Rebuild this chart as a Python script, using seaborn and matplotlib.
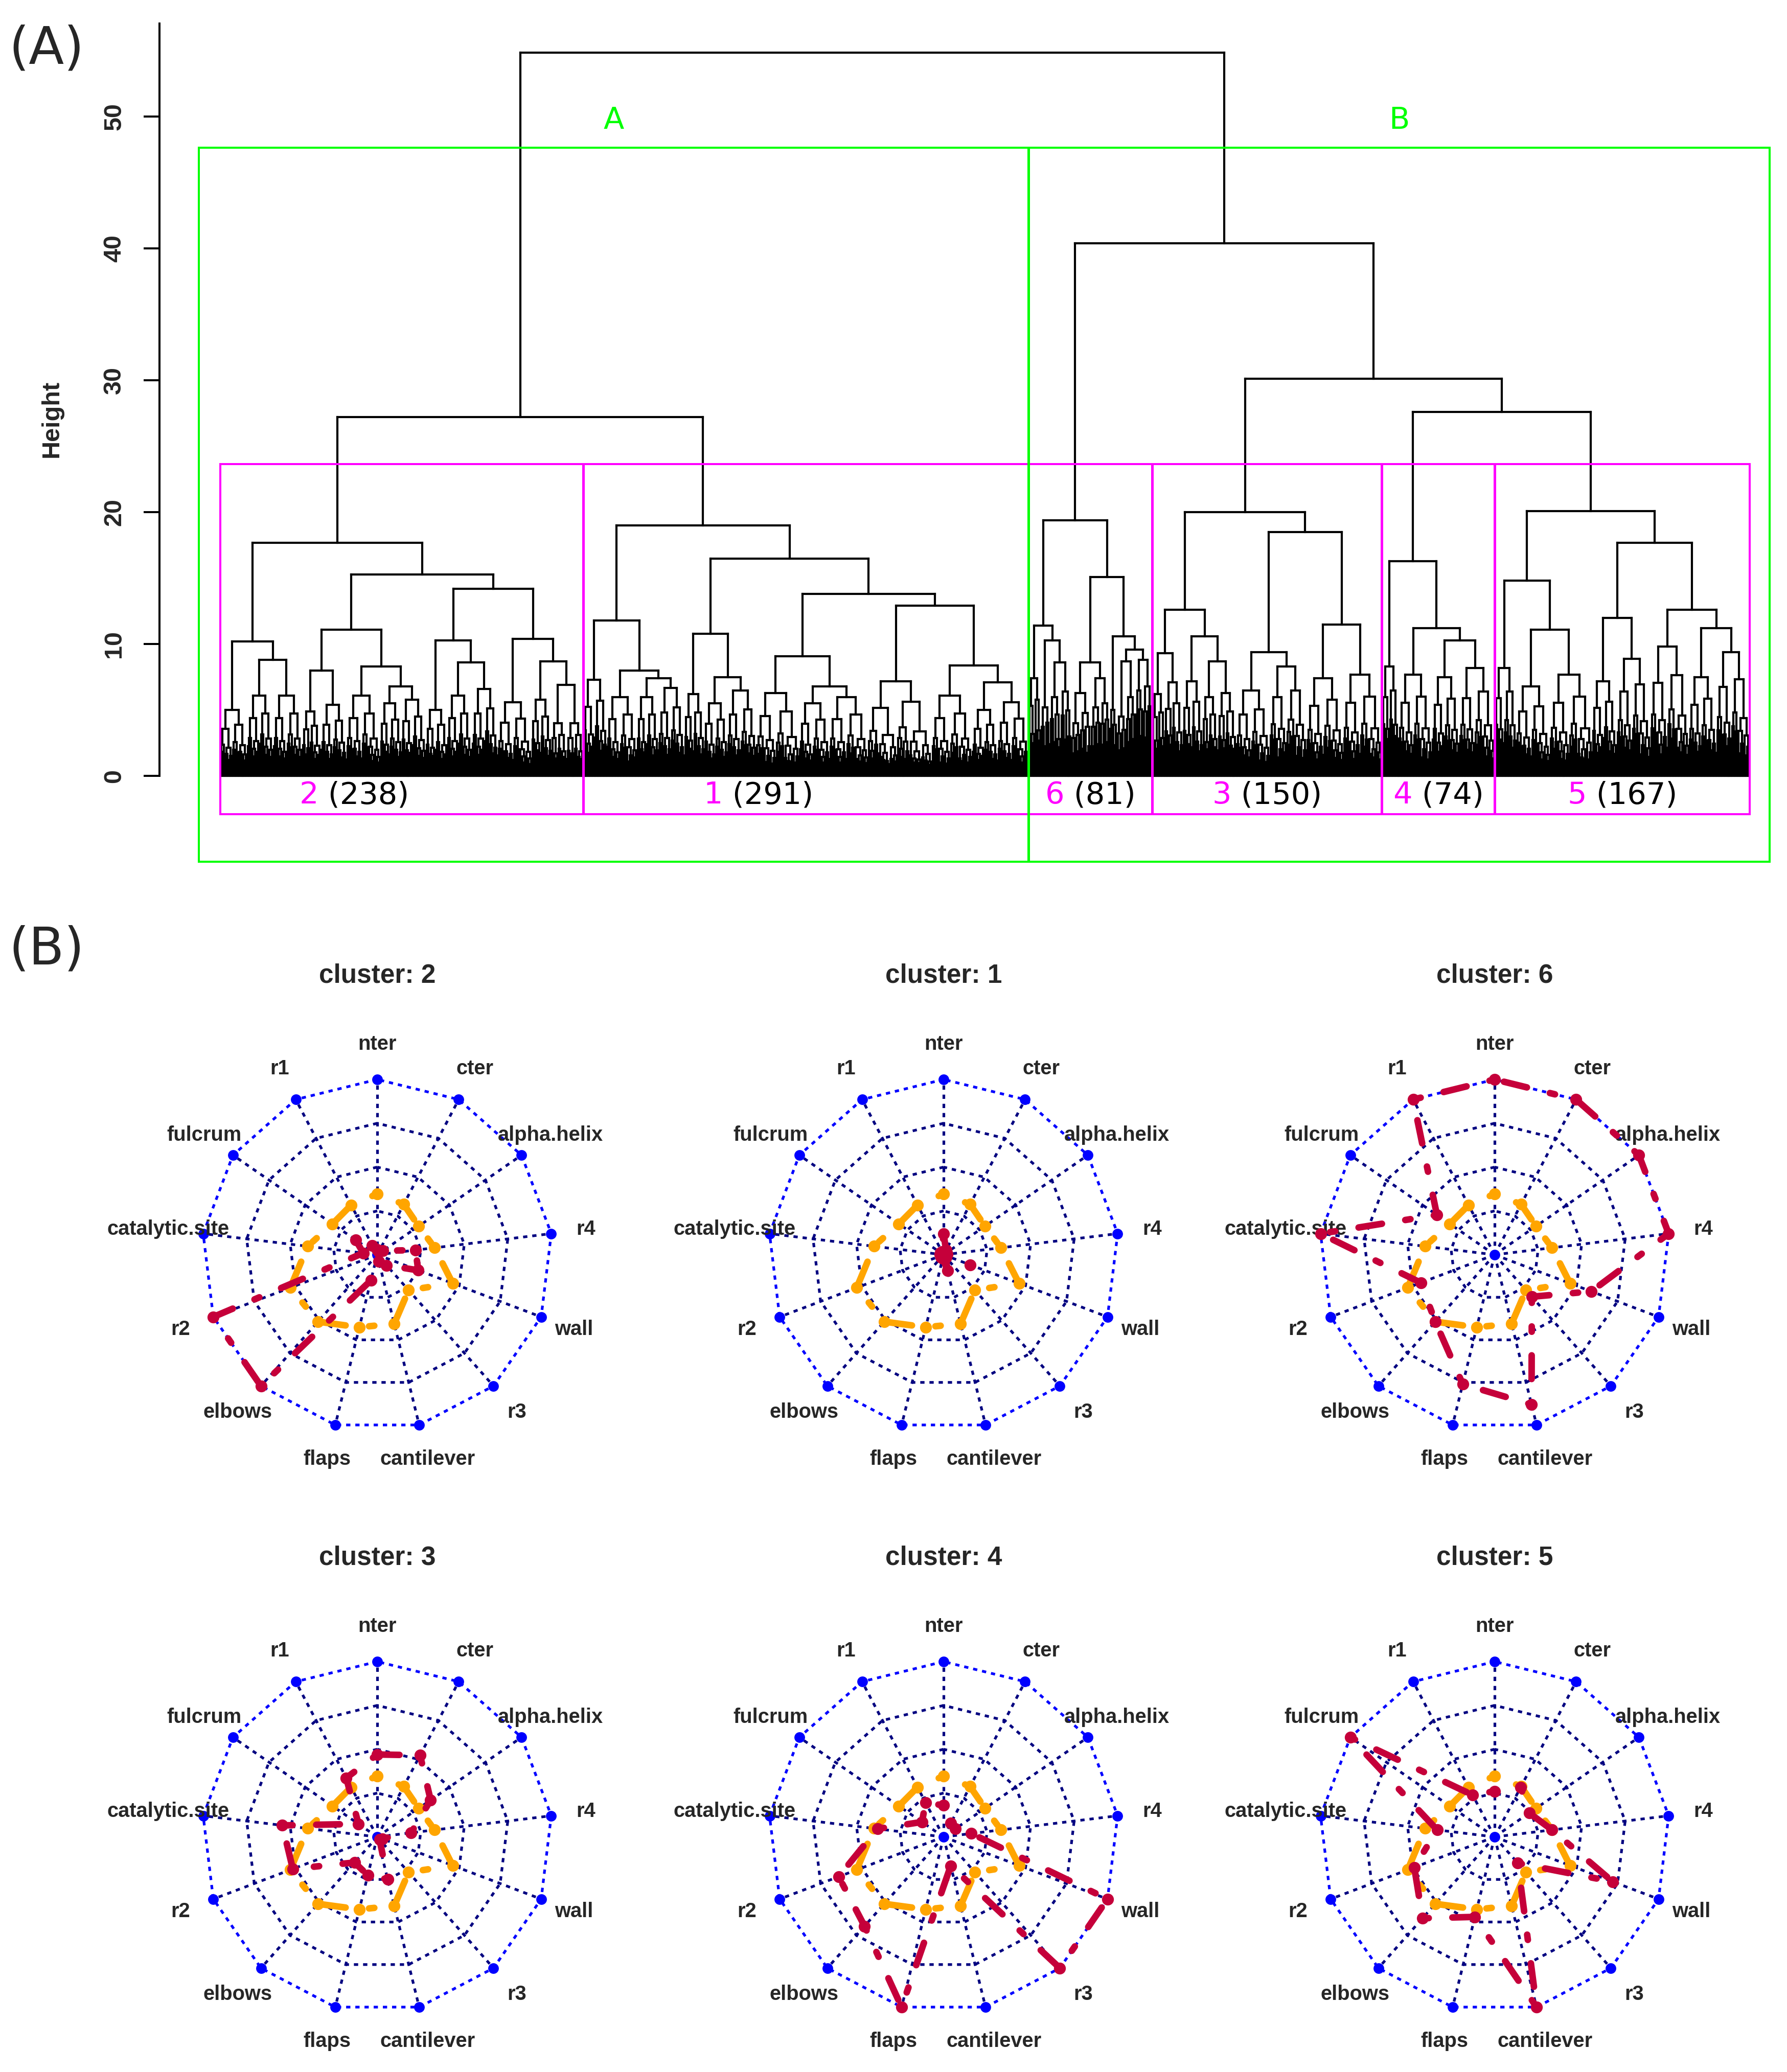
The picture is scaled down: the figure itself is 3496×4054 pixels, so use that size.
import numpy as np
import pandas as pd
import seaborn as sns
import matplotlib
matplotlib.use("Agg")
import matplotlib.pyplot as plt
from matplotlib.collections import LineCollection
from matplotlib.patches import Rectangle
from matplotlib.offsetbox import TextArea, HPacker, AnnotationBbox

sns.set_theme(style="white")
plt.rcParams['font.family'] = ['Liberation Sans', 'DejaVu Sans']

# ---------------- (A) dendrogram data ----------------
# internal node = (height, left, right); [n, h] = tight group of n leaves topped at height h
clus2 = (17.7, (10.2, [18, 5.0], (8.8, [17, 6.1], [19, 6.1])),
               (15.3, (11.1, (8.0, [12, 4.9], [17, 5.4]),
                             (8.3, [22, 6.1], (6.8, [14, 5.5], [16, 5.8]))),
                      (14.2, (10.3, [14, 5.0], (8.6, [16, 6.1], [17, 6.6])),
                             (10.4, [22, 5.6], (8.7, [13, 5.8], (6.9, [10, 4.0], [11, 4.0]))))))
clus1 = (19.0, (11.8, [15, 7.3], (8.0, [20, 6.0], (7.4, [14, 6.0], [17, 6.7]))),
               (16.5, (10.8, [13, 6.2], (7.5, [15, 5.5], [19, 6.5])),
                      (13.8, (9.1, [28, 6.3], (6.8, [20, 5.5], [25, 6.0])),
                             (12.9, [42, 7.2], (8.4, [26, 6.1], (7.1, [17, 5.0], [20, 5.6]))))))
clus6 = (19.4, (11.4, [8, 7.4], (10.3, [6, 5.2], (8.6, [7, 6.0], [7, 6.4]))),
               (15.1, (8.6, (6.3, [6, 4.0], [7, 4.8]), (7.4, [6, 5.2], [6, 5.5])),
                      (10.6, [5, 5.0], (9.6, (8.7, [6, 4.5], [6, 6.0]), (8.8, [5, 6.5], [6, 6.8])))))
clus3 = (20.0, (12.6, (9.3, [8, 6.2], [12, 7.1]), (10.6, [13, 7.2], (8.7, [10, 6.0], [12, 6.3]))),
               (18.5, (9.4, [22, 6.5], [24, 8.3]), (11.5, [24, 7.4], [25, 7.7])))
clus4 = (16.3, [11, 8.3], (11.2, [22, 7.7], (10.3, [18, 7.5], [23, 8.2])))
clus5 = (20.1, (14.8, [14, 8.2], (11.1, [22, 6.8], [28, 7.7])),
               (17.7, (12.0, [16, 7.2], [22, 8.9]),
                      (12.6, [25, 9.8], (11.2, [18, 7.5], [22, 9.4]))))
tree = (54.85, (27.2, clus2, clus1), (40.4, clus6, (30.1, clus3, (27.6, clus4, clus5))))

cl_ids = ["2", "1", "6", "3", "4", "5"]
cl_sizes = [238, 291, 81, 150, 74, 167]
k2_names = ["A", "B"]
k2_sizes = [529, 472]

# ---------------- (B) radar data ----------------
vars_ = ["nter", "r1", "fulcrum", "catalytic.site", "r2", "elbows", "flaps",
         "cantilever", "r3", "wall", "r4", "alpha.helix", "cter"]
overall = [0.347, 0.32, 0.31, 0.40, 0.53, 0.51, 0.426, 0.405, 0.27, 0.46, 0.33, 0.287, 0.325]
cl2 = [0.03, 0.06, 0.15, 0.08, 1.0, 1.0, 0.15, 0.04, 0.08, 0.25, 0.22, 0.04, 0.02]
cl1 = [0.12, 0.02, 0.02, 0.02, 0.02, 0.02, 0.02, 0.094, 0.02, 0.163, 0.02, 0.02, 0.03]
cl6 = [1.0, 1.0, 0.40, 1.0, 0.45, 0.51, 0.76, 0.88, 0.32, 0.59, 1.0, 1.0, 1.0]
cl3 = [0.47, 0.38, 0.13, 0.545, 0.515, 0.195, 0.225, 0.25, 0.02, 0.03, 0.195, 0.37, 0.526]
cl4 = [0.18, 0.22, 0.15, 0.38, 0.64, 0.68, 1.0, 0.17, 1.0, 1.0, 0.16, 0.08, 0.09]
cl5 = [0.26, 0.27, 1.0, 0.33, 0.49, 0.62, 0.47, 1.0, 0.20, 0.72, 0.33, 0.24, 0.32]
radar_panels = [("2", cl2), ("1", cl1), ("6", cl6), ("3", cl3), ("4", cl4), ("5", cl5)]

# ---------------- figure ----------------
W, H = 3496, 4054
fig = plt.figure(figsize=(W / 250, H / 250), dpi=250)


def px_axes(x0, y0, x1, y1):
    return fig.add_axes([x0 / W, 1 - y1 / H, (x1 - x0) / W, (y1 - y0) / H])


# build dendrogram segments
SPLIT = [0.45, 0.35, 0.55, 0.3, 0.5]
DROP = [0.72, 0.66, 0.78, 0.6, 0.7]
segs, heights, leaf = [], [], [0]


def join(xl, hl, xr, hr, h):
    segs.extend([[(xl, hl), (xl, h)], [(xl, h), (xr, h)], [(xr, h), (xr, hr)]])
    heights.append(h)
    return (xl + xr) / 2, h


def grow(n, h, k=0):
    if n == 1:
        leaf[0] += 1
        return leaf[0], 0.0
    a = min(n - 1, max(1, int(round(n * SPLIT[k % 5]))))
    xl, hl = grow(a, h * DROP[k % 5], k + 1)
    xr, hr = grow(n - a, h * DROP[(k + 2) % 5], k + 1)
    return join(xl, hl, xr, hr, h)


def place(node):
    if isinstance(node, list):
        return grow(node[0], node[1])
    h, l, r = node
    xl, hl = place(l)
    xr, hr = place(r)
    return join(xl, hl, xr, hr, h)


place(tree)
hs = sorted(heights, reverse=True)
top6 = (hs[4] + hs[5]) / 2
top2 = (hs[0] + hs[1]) / 2

ax = px_axes(312, 46, 3542, 1575)
ax.set_xlim(-39, 1041)
ax.set_ylim(-2.19, 57.04)
ax.add_collection(LineCollection(segs, colors='black', linewidths=1.2, capstyle='projecting'))

# cluster rectangles (k = 6) and group rectangles (k = 2)
mag, grn = '#FF00FF', '#00FF00'
shift = [-31, -31, 0, 0, 0, 0]
m = 0
for i, (cid, n) in enumerate(zip(cl_ids, cl_sizes)):
    x0, x1 = m + 0.66, m + n + 0.33
    ax.add_patch(Rectangle((x0, -2.9), x1 - x0, top6 + 2.9, fill=False, ec=mag,
                           lw=1.15, clip_on=False, zorder=3))
    box = HPacker(children=[TextArea(cid, textprops=dict(color=mag, fontsize=17, family='DejaVu Sans')),
                            TextArea(" (%d)" % n, textprops=dict(color='black', fontsize=17, family='DejaVu Sans'))],
                  align="baseline", pad=0, sep=0)
    ab = AnnotationBbox(box, ((x0 + x1) / 2 + shift[i], -1.45), xycoords='data', frameon=False,
                        box_alignment=(0.5, 0.5), pad=0, annotation_clip=False)
    ax.add_artist(ab)
    m += n

m = 0
ext = [(-14, 0), (0, 13)]
for i, (g, n) in enumerate(zip(k2_names, k2_sizes)):
    x0, x1 = m + 0.66 + ext[i][0], m + n + 0.33 + ext[i][1]
    ax.add_patch(Rectangle((x0, -6.5), x1 - x0, top2 + 6.5, fill=False, ec=grn,
                           lw=1.15, clip_on=False, zorder=3))
    ax.text((x0 + x1) / 2, 49.7, g, color=grn, fontsize=17, family='DejaVu Sans',
            ha='center', va='center', clip_on=False)
    m += n

sns.despine(ax=ax, bottom=True)
ax.spines['left'].set_bounds(0, 57.04)
ax.spines['left'].set_color('black')
ax.spines['left'].set_linewidth(1.15)
ax.set_xticks([])
ax.set_yticks(range(0, 51, 10))
ax.tick_params(axis='y', left=True, length=8.9, width=1.15, color='black', direction='out',
               pad=10, labelsize=14, labelrotation=90)
for t in ax.get_yticklabels():
    t.set_fontweight('bold')
    t.set_va('center')
fig.text(101 / W, 1 - 819 / H, "Height", rotation=90, ha='center', va='center',
         fontsize=14, fontweight='bold')
fig.text(17 / W, 1 - 96 / H, "(A)", fontsize=29, family='DejaVu Sans', ha='left', va='center')
fig.text(17 / W, 1 - 1859 / H, "(B)", fontsize=29, family='DejaVu Sans', ha='left', va='center')

# ---------------- radar charts ----------------
R = 343
col_c = [738, 1846, 2924]
row_c = [2455, 3594]
ang = np.deg2rad(90 + 360 / 13 * np.arange(13))
ux, uy = np.cos(ang), np.sin(ang)
navy, blue = '#000080', '#0000FF'
dot = (0, (1.6, 1.85))
dotdash = (0, (0.8, 3.6, 3.6, 3.6))


def closed(a):
    return np.r_[a, a[:1]]


for i, (cid, vals) in enumerate(radar_panels):
    cx, cy = col_c[i % 3], row_c[i // 3]
    rax = px_axes(cx - 1.5 * R, cy - 1.5 * R, cx + 1.5 * R, cy + 1.5 * R)
    rax.set_xlim(-1.5, 1.5)
    rax.set_ylim(-1.5, 1.5)
    rax.axis('off')
    for f in [0.25, 0.5, 0.75]:
        rax.plot(closed(ux) * f, closed(uy) * f, color=navy, lw=1.5, ls=dot, zorder=1)
    for j in range(13):
        rax.plot([0, ux[j]], [0, uy[j]], color=navy, lw=1.5, ls=dot, zorder=1)
    rax.plot(closed(ux), closed(uy), color=blue, lw=1.5, ls=dot, zorder=2)
    sns.scatterplot(x=ux, y=uy, color=blue, s=36, linewidth=0, ax=rax, zorder=2)
    sns.scatterplot(x=[0], y=[0], color=blue, s=36, linewidth=0, ax=rax, zorder=2)
    for vv, col, z in [(overall, '#FFA500', 3), (vals, '#C5003A', 4)]:
        v = np.array(vv)
        rax.plot(closed(ux * v), closed(uy * v), color=col, lw=3.7, ls=dotdash,
                 dash_capstyle='round', solid_capstyle='round', zorder=z)
        sns.scatterplot(x=ux * v, y=uy * v, color=col, s=45, linewidth=0, ax=rax, zorder=z)
    for j, name in enumerate(vars_):
        rax.text(1.2 * ux[j], 1.2 * uy[j], name, ha='center', va='center',
                 fontsize=11.5, fontweight='bold', clip_on=False)
    rax.text(0, 1.592, "cluster: " + cid, ha='center', va='center', fontsize=14.8,
             fontweight='bold', clip_on=False)
    rax.set_xlabel("")
    rax.set_ylabel("")

fig.savefig("out.png", dpi=250)
